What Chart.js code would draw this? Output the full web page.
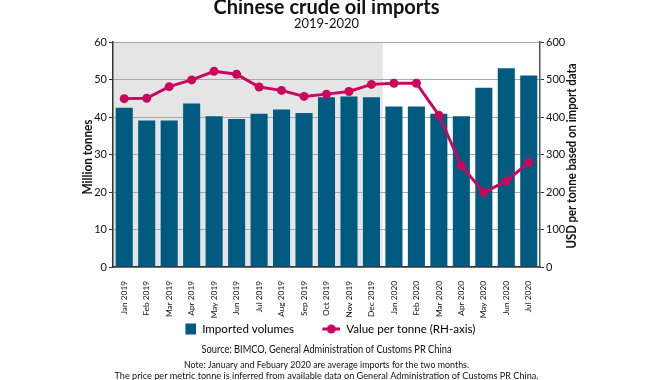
<!DOCTYPE html>
<html><head><meta charset="utf-8">
<script src="https://cdn.jsdelivr.net/npm/chart.js@4"></script>
<style>html,body{margin:0;padding:0;background:#fff}#wrap{width:670px;height:380px}</style>
</head><body><div id="wrap"><canvas id="c" width="670" height="380"></canvas></div>
<script>
const categories = ['Jan 2019','Feb 2019','Mar 2019','Apr 2019','May 2019','Jun 2019','Jul 2019','Aug 2019','Sep 2019','Oct 2019','Nov 2019','Dec 2019','Jan 2020','Feb 2020','Mar 2020','Apr 2020','May 2020','Jun 2020','Jul 2020'];
const importedVolumes = [42.5,39.1,39.1,43.6,40.2,39.5,40.9,42.0,41.1,45.3,45.5,45.3,42.8,42.8,40.9,40.2,47.8,53.0,51.1];
const valuePerTonne = [449,450,481,499,522,514,480,471,455,461,468,487,490,490,405,270,199,229,279];
const leftTicks = [0,10,20,30,40,50,60];
const rightTicks = [0,100,200,300,400,500,600];
const shadedCategories = ['Jan 2019','Feb 2019','Mar 2019','Apr 2019','May 2019','Jun 2019','Jul 2019','Aug 2019','Sep 2019','Oct 2019','Nov 2019','Dec 2019'];
const titleText = 'Chinese crude oil imports';
const subtitleText = '2019-2020';
const leftAxisTitle = 'Million tonnes';
const rightAxisTitle = 'USD per tonne based on import data';
const sourceText = 'Source: BIMCO, General Administration of Customs PR China';
const noteLines = ['Note: January and Febuary 2020 are average imports for the two months.','The price per metric tonne is inferred from available data on General Administration of Customs PR China.'];

const BAR = '#015A80';
const LINE = '#C9075D';
const FONT = 'Lato';
const SW = 44;
const PADL = 42.8;

function swatchRect(){const c=document.createElement('canvas');c.width=SW;c.height=12;const x=c.getContext('2d');x.fillStyle=BAR;x.fillRect(SW-11,0.5,11,11);return c;}
function swatchLine(){const c=document.createElement('canvas');c.width=SW;c.height=10;const x=c.getContext('2d');x.strokeStyle=LINE;x.lineWidth=3;x.beginPath();x.moveTo(SW-18,5);x.lineTo(SW,5);x.stroke();x.fillStyle=LINE;x.beginPath();x.arc(SW-9,5,4.5,0,Math.PI*2);x.fill();return c;}

function fitText(ctx,text,cx,cy,font,target,rot){
  ctx.save();ctx.font=font;
  const w=ctx.measureText(text).width;
  ctx.translate(cx,cy);if(rot)ctx.rotate(rot);
  ctx.scale(target/w,1);
  ctx.fillText(text,0,0);ctx.restore();
}

const bandPlugin = {
  id:'band',
  beforeDraw(chart){
    const {ctx, chartArea:a, scales:{x}} = chart;
    const first = categories.indexOf(shadedCategories[0]);
    const last = categories.indexOf(shadedCategories[shadedCategories.length-1]);
    const half = (x.getPixelForValue(1)-x.getPixelForValue(0))/2;
    const x0 = Math.max(a.left, x.getPixelForValue(first)-half);
    const x1 = x.getPixelForValue(last)+half;
    ctx.save();ctx.fillStyle='#E5E5E5';ctx.fillRect(x0,a.top,x1-x0,a.bottom-a.top);ctx.restore();
  }
};
const textPlugin = {
  id:'texts',
  afterDraw(chart){
    const {ctx, chartArea:a} = chart;
    const cx = (a.left+a.right)/2;
    ctx.save();
    ctx.fillStyle='#111';ctx.textAlign='center';ctx.textBaseline='alphabetic';
    fitText(ctx,titleText,cx,13.5,'bold 20px '+FONT,226);
    fitText(ctx,subtitleText,cx,28,'13.5px '+FONT,65);
    fitText(ctx,sourceText,cx,353,'11px '+FONT,250);
    fitText(ctx,noteLines[0],cx,368,'9.6px '+FONT,285);
    fitText(ctx,noteLines[1],cx,379,'9.6px '+FONT,424);
    ctx.textBaseline='middle';
    fitText(ctx,leftAxisTitle,88,157,'bold 12.5px '+FONT,75,-Math.PI/2);
    fitText(ctx,rightAxisTitle,572,156,'bold 12.5px '+FONT,185,-Math.PI/2);
    ctx.restore();
  }
};

new Chart(document.getElementById('c'),{
  data:{
    labels:categories,
    datasets:[
      {type:'bar',label:'Imported volumes',data:importedVolumes,backgroundColor:BAR,yAxisID:'y',order:2,categoryPercentage:1,barPercentage:0.76},
      {type:'line',label:'Value per tonne (RH-axis)',data:valuePerTonne,borderColor:LINE,backgroundColor:LINE,borderWidth:3,pointRadius:4.5,pointBackgroundColor:LINE,pointBorderWidth:0,yAxisID:'y1',order:1,tension:0}
    ]
  },
  options:{
    responsive:false,animation:false,
    layout:{padding:{left:PADL,right:85,top:42,bottom:35.2}},
    plugins:{
      tooltip:{enabled:false},
      legend:{position:'bottom',
        labels:{font:{family:FONT,size:11.6},color:'#111',usePointStyle:true,pointStyleWidth:SW,padding:2.2,boxHeight:11.6,
          sort:(a,b)=>a.datasetIndex-b.datasetIndex,
          generateLabels(chart){
            return chart.data.datasets.map((d,i)=>({text:d.label,datasetIndex:i,pointStyle:i===0?swatchRect():swatchLine(),fillStyle:d.backgroundColor,strokeStyle:d.backgroundColor,lineWidth:0,hidden:false}));
          }}
      }
    },
    scales:{
      x:{grid:{display:false},border:{display:true,color:'#333',width:1.5},
        ticks:{minRotation:90,maxRotation:90,autoSkip:false,padding:6,font:{family:FONT,size:8.3},color:'#111'},
        afterFit(s){s.height=54;}},
      y:{position:'left',min:0,max:60,
        afterBuildTicks(s){s.ticks=leftTicks.map(v=>({value:v}));},
        grid:{color:'#A8A8A8',borderDash:[2,2],lineWidth:1,drawTicks:true,tickLength:4,tickColor:'#333',tickBorderDash:[]},
        border:{display:true,color:'#333',width:1.5},
        ticks:{font:{family:FONT,size:11},color:'#111',padding:2},
        afterFit(s){s.width=113-PADL;}},
      y1:{position:'right',min:0,max:600,
        afterBuildTicks(s){s.ticks=rightTicks.map(v=>({value:v}));},
        grid:{drawOnChartArea:false,drawTicks:true,tickLength:4,tickColor:'#333'},
        border:{display:true,color:'#555',width:1.5},
        ticks:{font:{family:FONT,size:11},color:'#111',padding:2},
        afterFit(s){s.width=45;}}
    }
  },
  plugins:[bandPlugin,textPlugin]
});
</script></body></html>
